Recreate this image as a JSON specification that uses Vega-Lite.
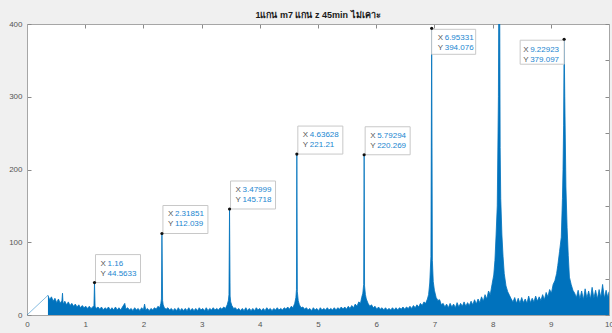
{
  "$schema": "https://vega.github.io/schema/vega-lite/v6.json",
  "width": 582,
  "height": 291,
  "autosize": "none",
  "padding": {"left": 27, "top": 24, "right": 3, "bottom": 18},
  "background": "#f0f0f0",
  "view": {"fill": "white", "stroke": null},
  "title": {"text": "1แกน m7 แกน z 45min ไม่เคาะ", "fontSize": 9, "fontWeight": "bold", "font": "Liberation Sans", "color": "#1a1a1a", "anchor": "middle", "baseline": "alphabetic", "offset": -7},
  "config": {
    "axis": {"grid": false, "title": null, "domainColor": "#a6a6a6", "tickColor": "#8a8a8a", "labelColor": "#555555", "labelFont": "Liberation Sans", "labelFontSize": 8, "tickSize": -4, "domainWidth": 1, "tickWidth": 1}
  },
  "datasets": {
    "spectrum": [
      {"x":0.36,"y":27},{"x":0.39,"y":21},{"x":0.42,"y":25},{"x":0.45,"y":19},{"x":0.48,"y":23},{"x":0.51,"y":17},{"x":0.54,"y":22},{"x":0.57,"y":16},{"x":0.6,"y":20},{"x":0.61,"y":30},{"x":0.62,"y":15},{"x":0.65,"y":19},{"x":0.68,"y":14},{"x":0.71,"y":18},{"x":0.74,"y":13},{"x":0.77,"y":16},{"x":0.8,"y":12},{"x":0.83,"y":15},{"x":0.86,"y":11},{"x":0.89,"y":14},{"x":0.92,"y":10},{"x":0.95,"y":13},{"x":0.98,"y":10},{"x":1.01,"y":12},{"x":1.04,"y":9},{"x":1.07,"y":12},{"x":1.1,"y":9},{"x":1.13,"y":11},{"x":1.15,"y":13},{"x":1.16,"y":44.5633},{"x":1.17,"y":12},{"x":1.19,"y":9},
      {"x":1.22,"y":11},{"x":1.25,"y":8},{"x":1.28,"y":11},{"x":1.31,"y":7},{"x":1.34,"y":10},{"x":1.37,"y":8},{"x":1.4,"y":11},{"x":1.43,"y":7},{"x":1.46,"y":10},{"x":1.49,"y":7},{"x":1.52,"y":11},{"x":1.55,"y":7},{"x":1.58,"y":10},{"x":1.61,"y":7},{"x":1.64,"y":11},{"x":1.68,"y":16},{"x":1.7,"y":8},{"x":1.73,"y":10},{"x":1.76,"y":7},{"x":1.79,"y":9},{"x":1.82,"y":6},{"x":1.85,"y":10},{"x":1.88,"y":7},{"x":1.91,"y":9},{"x":1.94,"y":6},{"x":1.97,"y":10},{"x":2.0,"y":7},{"x":2.02,"y":15},{"x":2.04,"y":7},{"x":2.07,"y":9},{"x":2.1,"y":6},{"x":2.13,"y":9},{"x":2.16,"y":7},{"x":2.19,"y":10},{"x":2.22,"y":8},{"x":2.25,"y":12},{"x":2.28,"y":10},{"x":2.3,"y":16},{"x":2.31,"y":22},{"x":2.3185,"y":112.039},{"x":2.33,"y":20},{"x":2.34,"y":14},{"x":2.36,"y":10},{"x":2.39,"y":8},
      {"x":2.42,"y":10},{"x":2.45,"y":7},{"x":2.48,"y":9},{"x":2.51,"y":6},{"x":2.54,"y":9},{"x":2.57,"y":6},{"x":2.6,"y":10},{"x":2.63,"y":6},{"x":2.66,"y":9},{"x":2.69,"y":6},{"x":2.72,"y":9},{"x":2.75,"y":6},{"x":2.78,"y":10},{"x":2.81,"y":6},{"x":2.84,"y":9},{"x":2.87,"y":6},{"x":2.9,"y":9},{"x":2.93,"y":6},{"x":2.96,"y":10},{"x":2.99,"y":7},{"x":3.02,"y":9},{"x":3.05,"y":6},{"x":3.08,"y":10},{"x":3.11,"y":6},{"x":3.14,"y":9},{"x":3.17,"y":7},{"x":3.2,"y":10},{"x":3.23,"y":7},{"x":3.26,"y":9},{"x":3.29,"y":7},{"x":3.32,"y":10},{"x":3.35,"y":8},{"x":3.38,"y":11},{"x":3.41,"y":9},{"x":3.44,"y":14},{"x":3.46,"y":20},{"x":3.47,"y":28},{"x":3.47999,"y":145.718},{"x":3.49,"y":26},{"x":3.5,"y":18},{"x":3.52,"y":13},{"x":3.55,"y":9},{"x":3.58,"y":10},
      {"x":3.61,"y":7},{"x":3.64,"y":9},{"x":3.67,"y":6},{"x":3.7,"y":9},{"x":3.73,"y":6},{"x":3.76,"y":10},{"x":3.79,"y":6},{"x":3.82,"y":9},{"x":3.85,"y":6},{"x":3.88,"y":9},{"x":3.91,"y":6},{"x":3.94,"y":10},{"x":3.97,"y":7},{"x":4.0,"y":9},{"x":4.03,"y":6},{"x":4.06,"y":9},{"x":4.09,"y":6},{"x":4.12,"y":10},{"x":4.15,"y":7},{"x":4.18,"y":9},{"x":4.21,"y":6},{"x":4.24,"y":9},{"x":4.27,"y":7},{"x":4.3,"y":10},{"x":4.33,"y":7},{"x":4.36,"y":9},{"x":4.39,"y":7},{"x":4.42,"y":10},{"x":4.45,"y":8},{"x":4.48,"y":11},{"x":4.51,"y":8},{"x":4.54,"y":12},{"x":4.57,"y":10},{"x":4.6,"y":16},{"x":4.62,"y":24},{"x":4.63,"y":35},{"x":4.63628,"y":221.21},{"x":4.645,"y":32},{"x":4.66,"y":20},{"x":4.68,"y":14},{"x":4.71,"y":10},{"x":4.74,"y":11},
      {"x":4.77,"y":8},{"x":4.8,"y":10},{"x":4.83,"y":7},{"x":4.86,"y":9},{"x":4.89,"y":6},{"x":4.92,"y":10},{"x":4.95,"y":7},{"x":4.98,"y":9},{"x":5.01,"y":6},{"x":5.04,"y":10},{"x":5.07,"y":7},{"x":5.1,"y":9},{"x":5.13,"y":7},{"x":5.16,"y":10},{"x":5.19,"y":7},{"x":5.22,"y":9},{"x":5.25,"y":7},{"x":5.28,"y":10},{"x":5.31,"y":7},{"x":5.34,"y":10},{"x":5.37,"y":8},{"x":5.4,"y":11},{"x":5.43,"y":8},{"x":5.46,"y":11},{"x":5.49,"y":8},{"x":5.52,"y":12},{"x":5.55,"y":9},{"x":5.58,"y":13},{"x":5.61,"y":10},{"x":5.64,"y":15},{"x":5.67,"y":12},{"x":5.7,"y":18},{"x":5.73,"y":16},{"x":5.75,"y":24},{"x":5.77,"y":30},{"x":5.785,"y":42},{"x":5.79294,"y":220.269},{"x":5.8,"y":40},{"x":5.815,"y":28},{"x":5.83,"y":22},{"x":5.86,"y":16},{"x":5.89,"y":12},{"x":5.92,"y":14},
      {"x":5.95,"y":10},{"x":5.98,"y":12},{"x":6.01,"y":8},{"x":6.04,"y":11},{"x":6.07,"y":8},{"x":6.1,"y":10},{"x":6.13,"y":7},{"x":6.16,"y":10},{"x":6.19,"y":7},{"x":6.22,"y":9},{"x":6.25,"y":7},{"x":6.28,"y":10},{"x":6.31,"y":7},{"x":6.34,"y":10},{"x":6.37,"y":7},{"x":6.4,"y":10},{"x":6.43,"y":8},{"x":6.46,"y":11},{"x":6.49,"y":8},{"x":6.52,"y":11},{"x":6.55,"y":9},{"x":6.58,"y":12},{"x":6.61,"y":9},{"x":6.64,"y":13},{"x":6.67,"y":10},{"x":6.7,"y":14},{"x":6.73,"y":11},{"x":6.76,"y":16},{"x":6.79,"y":13},{"x":6.82,"y":18},{"x":6.85,"y":16},{"x":6.88,"y":22},{"x":6.9,"y":28},{"x":6.92,"y":44},{"x":6.94,"y":80},{"x":6.95331,"y":394.076},{"x":6.965,"y":75},{"x":6.98,"y":46},{"x":7.0,"y":34},{"x":7.03,"y":24},{"x":7.06,"y":20},{"x":7.09,"y":21},{"x":7.12,"y":14},
      {"x":7.15,"y":16},{"x":7.18,"y":11},{"x":7.21,"y":15},{"x":7.24,"y":10},{"x":7.27,"y":16},{"x":7.3,"y":11},{"x":7.33,"y":15},{"x":7.36,"y":10},{"x":7.39,"y":17},{"x":7.42,"y":11},{"x":7.45,"y":16},{"x":7.48,"y":12},{"x":7.51,"y":18},{"x":7.54,"y":12},{"x":7.57,"y":17},{"x":7.6,"y":13},{"x":7.63,"y":19},{"x":7.66,"y":14},{"x":7.69,"y":21},{"x":7.72,"y":15},{"x":7.75,"y":22},{"x":7.78,"y":17},{"x":7.81,"y":25},{"x":7.84,"y":19},{"x":7.87,"y":28},{"x":7.9,"y":22},{"x":7.93,"y":33},{"x":7.96,"y":28},{"x":7.99,"y":42},{"x":8.02,"y":55},{"x":8.04,"y":75},{"x":8.06,"y":110},{"x":8.08,"y":150},{"x":8.1,"y":300},{"x":8.11,"y":520},{"x":8.12,"y":480},{"x":8.13,"y":230},{"x":8.14,"y":160},{"x":8.16,"y":110},{"x":8.18,"y":80},{"x":8.2,"y":57},{"x":8.23,"y":40},{"x":8.26,"y":32},{"x":8.29,"y":27},{"x":8.32,"y":22},
      {"x":8.35,"y":18},{"x":8.38,"y":24},{"x":8.41,"y":16},{"x":8.44,"y":23},{"x":8.47,"y":16},{"x":8.5,"y":24},{"x":8.53,"y":17},{"x":8.56,"y":22},{"x":8.59,"y":16},{"x":8.62,"y":26},{"x":8.65,"y":17},{"x":8.68,"y":23},{"x":8.71,"y":18},{"x":8.74,"y":26},{"x":8.77,"y":19},{"x":8.8,"y":25},{"x":8.83,"y":20},{"x":8.86,"y":28},{"x":8.89,"y":21},{"x":8.92,"y":31},{"x":8.95,"y":25},{"x":8.98,"y":35},{"x":9.01,"y":30},{"x":9.04,"y":42},{"x":9.07,"y":47},{"x":9.1,"y":57},{"x":9.12,"y":68},{"x":9.15,"y":87},{"x":9.18,"y":107},{"x":9.2,"y":160},{"x":9.21,"y":200},{"x":9.22,"y":260},{"x":9.22923,"y":379.097},{"x":9.24,"y":300},{"x":9.26,"y":176},{"x":9.28,"y":120},{"x":9.3,"y":82},{"x":9.32,"y":52},{"x":9.35,"y":42},{"x":9.38,"y":34},{"x":9.41,"y":30},
      {"x":9.44,"y":24},{"x":9.47,"y":34},{"x":9.5,"y":22},{"x":9.53,"y":33},{"x":9.56,"y":21},{"x":9.59,"y":36},{"x":9.62,"y":23},{"x":9.65,"y":33},{"x":9.68,"y":22},{"x":9.71,"y":38},{"x":9.74,"y":23},{"x":9.77,"y":34},{"x":9.8,"y":22},{"x":9.83,"y":35},{"x":9.86,"y":24},{"x":9.89,"y":42},{"x":9.92,"y":23},{"x":9.95,"y":34},{"x":9.98,"y":24},{"x":10.0,"y":32}
    ],
    "lead": [{"x":0,"y":0},{"x":0.36,"y":27}],
    "tips": [
      {"x":1.16,"y":44.5633},{"x":2.31851,"y":112.039},{"x":3.47999,"y":145.718},{"x":4.63628,"y":221.21},{"x":5.79294,"y":220.269},{"x":6.95331,"y":394.076},{"x":9.22923,"y":379.097}
    ]
  },
  "layer": [
    {
      "layer": [
        {
          "data": {"name": "spectrum"},
          "mark": {"type": "area", "color": "#0072BD", "opacity": 1, "fillOpacity": 1, "clip": true, "line": {"color": "#0072BD", "strokeWidth": 0.8}},
          "encoding": {
            "x": {"field": "x", "type": "quantitative", "scale": {"domain": [0, 10], "nice": false, "zero": false}, "axis": {"orient": "bottom", "values": [0,1,2,3,4,5,6,7,8,9,10], "format": "d", "labelPadding": 9, "labelFlush": false}},
            "y": {"field": "y", "type": "quantitative", "scale": {"domain": [0, 400], "nice": false}, "axis": {"orient": "left", "values": [0,50,100,150,200,250,300,350,400], "format": "d", "labelPadding": 9}}
          }
        },
        {
          "data": {"name": "tips"},
          "transform": [{"filter": "datum.x < 6.9"}, {"calculate": "format(datum.x, '.6~g') + '\\n' + format(datum.y, '.6~g')", "as": "label"}],
          "layer": [
            {"mark": {"type": "point", "shape": "M0.1,0H4.6V-2.8H0.1Z", "size": 400, "filled": true, "fill": "white", "stroke": "#c8c8c8", "strokeWidth": 1, "opacity": 1}, "encoding": {"x": {"field": "x", "type": "quantitative"}, "y": {"field": "y", "type": "quantitative"}}},
            {"mark": {"type": "text", "text": "X\nY", "lineBreak": "\n", "align": "left", "baseline": "middle", "dx": 6, "dy": -19, "lineHeight": 10, "font": "Liberation Sans", "fontSize": 8, "color": "#555555"}, "encoding": {"x": {"field": "x", "type": "quantitative"}, "y": {"field": "y", "type": "quantitative"}}},
            {"mark": {"type": "text", "lineBreak": "\n", "align": "left", "baseline": "middle", "dx": 13, "dy": -19, "lineHeight": 10, "font": "Liberation Sans", "fontSize": 8, "color": "#1a86d0"}, "encoding": {"x": {"field": "x", "type": "quantitative"}, "y": {"field": "y", "type": "quantitative"}, "text": {"field": "label", "type": "nominal"}}}
          ]
        },
        {
          "data": {"name": "tips"},
          "transform": [{"filter": "datum.x > 6.9 && datum.x < 7"}, {"calculate": "format(datum.x, '.6~g') + '\\n' + format(datum.y, '.6~g')", "as": "label"}],
          "layer": [
            {"mark": {"type": "point", "shape": "M0,0.1H4.4V2.6H0Z", "size": 400, "filled": true, "fill": "white", "stroke": "#c8c8c8", "strokeWidth": 1, "opacity": 1}, "encoding": {"x": {"field": "x", "type": "quantitative"}, "y": {"field": "y", "type": "quantitative"}}},
            {"mark": {"type": "text", "text": "X\nY", "lineBreak": "\n", "align": "left", "baseline": "middle", "dx": 6, "dy": 10, "lineHeight": 10, "font": "Liberation Sans", "fontSize": 8, "color": "#555555"}, "encoding": {"x": {"field": "x", "type": "quantitative"}, "y": {"field": "y", "type": "quantitative"}}},
            {"mark": {"type": "text", "lineBreak": "\n", "align": "left", "baseline": "middle", "dx": 13, "dy": 10, "lineHeight": 10, "font": "Liberation Sans", "fontSize": 8, "color": "#1a86d0"}, "encoding": {"x": {"field": "x", "type": "quantitative"}, "y": {"field": "y", "type": "quantitative"}, "text": {"field": "label", "type": "nominal"}}}
          ]
        },
        {
          "data": {"name": "tips"},
          "transform": [{"filter": "datum.x > 9"}, {"calculate": "format(datum.x, '.6~g') + '\\n' + format(datum.y, '.6~g')", "as": "label"}],
          "layer": [
            {"mark": {"type": "point", "shape": "M-4.4,0.1H0V2.5H-4.4Z", "size": 400, "filled": true, "fill": "white", "stroke": "#c8c8c8", "strokeWidth": 1, "opacity": 1}, "encoding": {"x": {"field": "x", "type": "quantitative"}, "y": {"field": "y", "type": "quantitative"}}},
            {"mark": {"type": "text", "text": "X\nY", "lineBreak": "\n", "align": "left", "baseline": "middle", "dx": -41, "dy": 10.5, "lineHeight": 10, "font": "Liberation Sans", "fontSize": 8, "color": "#555555"}, "encoding": {"x": {"field": "x", "type": "quantitative"}, "y": {"field": "y", "type": "quantitative"}}},
            {"mark": {"type": "text", "lineBreak": "\n", "align": "left", "baseline": "middle", "dx": -34, "dy": 10.5, "lineHeight": 10, "font": "Liberation Sans", "fontSize": 8, "color": "#1a86d0"}, "encoding": {"x": {"field": "x", "type": "quantitative"}, "y": {"field": "y", "type": "quantitative"}, "text": {"field": "label", "type": "nominal"}}}
          ]
        },
        {
          "data": {"name": "tips"},
          "mark": {"type": "point", "shape": "circle", "size": 10, "filled": true, "color": "#111111", "opacity": 1},
          "encoding": {"x": {"field": "x", "type": "quantitative"}, "y": {"field": "y", "type": "quantitative"}}
        }
      ]
    },
    {
      "data": {"name": "lead"},
      "mark": {"type": "line", "color": "#0072BD", "strokeWidth": 0.6, "opacity": 0.8},
      "encoding": {
        "x": {"field": "x", "type": "quantitative", "scale": {"domain": [0, 10], "nice": false, "zero": false}, "axis": {"orient": "top", "values": [0,1,2,3,4,5,6,7,8,9,10], "labels": false}},
        "y": {"field": "y", "type": "quantitative", "scale": {"domain": [0, 400], "nice": false}, "axis": {"orient": "right", "values": [0,50,100,150,200,250,300,350,400], "labels": false}}
      }
    }
  ],
  "resolve": {"axis": {"x": "independent", "y": "independent"}}
}
